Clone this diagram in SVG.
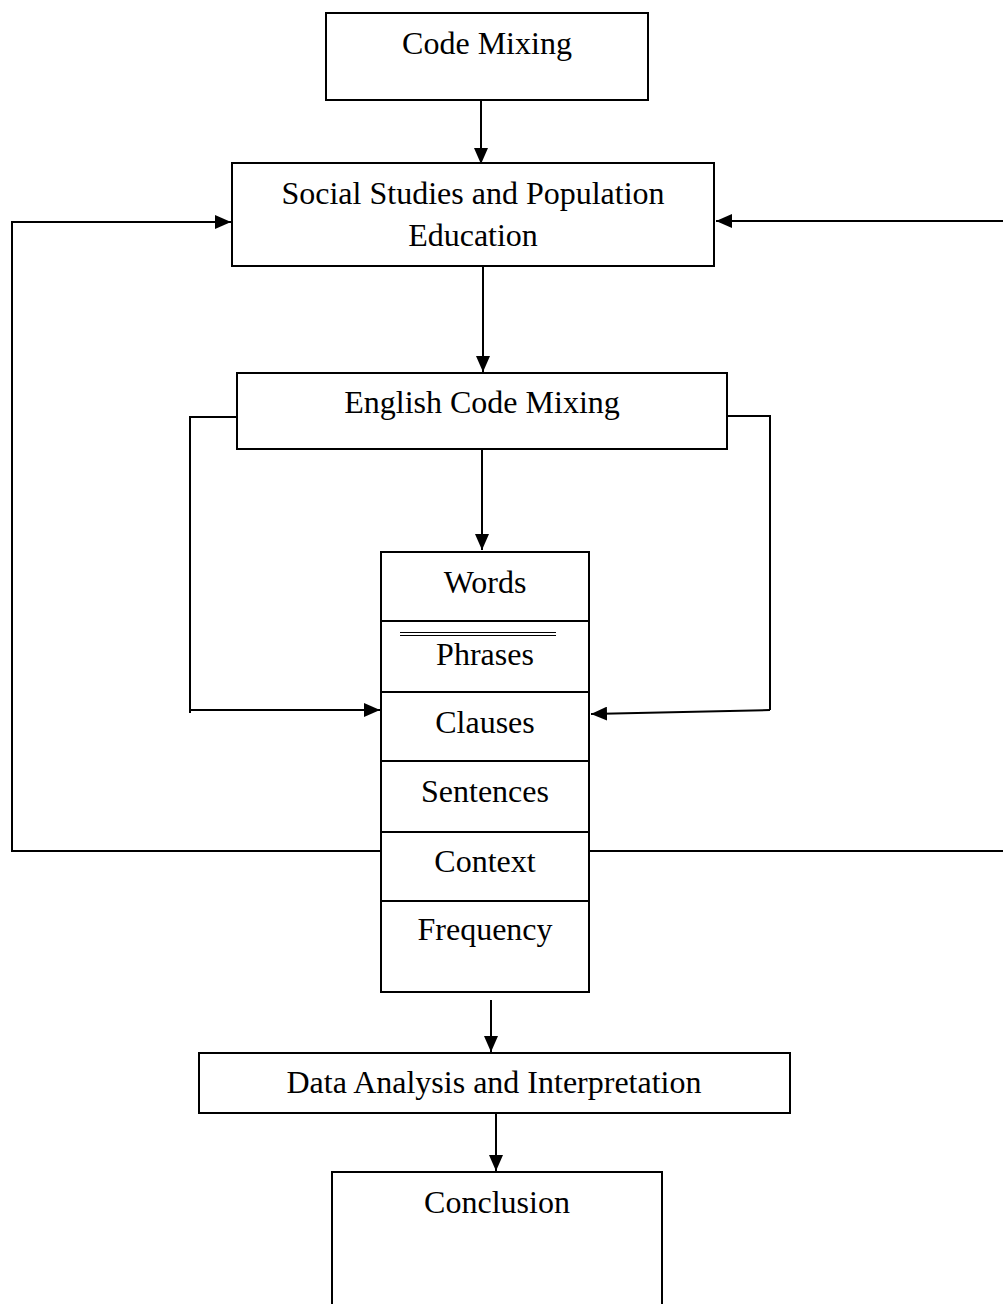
<svg xmlns="http://www.w3.org/2000/svg" width="1003" height="1304" viewBox="0 0 1003 1304">
<style>
.box{fill:#fff;stroke:#000;stroke-width:2}
.ln{fill:none;stroke:#000;stroke-width:2}
.t{font-family:"Liberation Serif","Times New Roman",serif;font-size:32px;fill:#000;text-anchor:middle}
</style>
<defs>
<marker id="ah" markerUnits="userSpaceOnUse" markerWidth="16" markerHeight="14" refX="16" refY="7" orient="auto">
<path d="M0,0 L16,7 L0,14 z" fill="#000"/>
</marker>
</defs>
<rect width="1003" height="1304" fill="#fff"/>
<g id="connectors">
<line class="ln" x1="481" y1="100" x2="481" y2="164" marker-end="url(#ah)"/>
<line class="ln" x1="483" y1="267" x2="483" y2="372" marker-end="url(#ah)"/>
<line class="ln" x1="482" y1="449" x2="482" y2="550" marker-end="url(#ah)"/>
<line class="ln" x1="491" y1="1000" x2="491" y2="1052" marker-end="url(#ah)"/>
<line class="ln" x1="496" y1="1113" x2="496" y2="1171" marker-end="url(#ah)"/>
<polyline class="ln" points="381,851 12,851 12,222 231,222" marker-end="url(#ah)"/>
<line class="ln" x1="589" y1="851" x2="1003" y2="851"/>
<line class="ln" x1="1003" y1="221" x2="716" y2="221" marker-end="url(#ah)"/>
<polyline class="ln" points="236,417 190,417 190,713"/>
<line class="ln" x1="190" y1="710" x2="380" y2="710" marker-end="url(#ah)"/>
<polyline class="ln" points="727,416 770,416 770,710"/>
<line class="ln" x1="770" y1="710" x2="591" y2="714" marker-end="url(#ah)"/>
</g>
<g id="code-mixing">
<rect class="box" x="326" y="13" width="322" height="87"/>
<text class="t" x="487" y="54">Code Mixing</text>
</g>
<g id="social-studies">
<rect class="box" x="232" y="163" width="482" height="103"/>
<text class="t" x="473" y="204">Social Studies and Population</text>
<text class="t" x="473" y="246">Education</text>
</g>
<g id="english-code-mixing">
<rect class="box" x="237" y="373" width="490" height="76"/>
<text class="t" x="482" y="413">English Code Mixing</text>
</g>
<g id="levels">
<rect class="box" x="381" y="552" width="208" height="440"/>
<line class="ln" x1="381" y1="621" x2="589" y2="621"/>
<line class="ln" x1="381" y1="692" x2="589" y2="692"/>
<line class="ln" x1="381" y1="761" x2="589" y2="761"/>
<line class="ln" x1="381" y1="832" x2="589" y2="832"/>
<line class="ln" x1="381" y1="901" x2="589" y2="901"/>
<line x1="400" y1="632.5" x2="556" y2="632.5" stroke="#000" stroke-width="1.2"/>
<line x1="400" y1="635.5" x2="556" y2="635.5" stroke="#000" stroke-width="1.2"/>
<text class="t" x="485" y="593">Words</text>
<text class="t" x="485" y="665">Phrases</text>
<text class="t" x="485" y="733">Clauses</text>
<text class="t" x="485" y="802">Sentences</text>
<text class="t" x="485" y="872">Context</text>
<text class="t" x="485" y="940">Frequency</text>
</g>
<g id="data-analysis">
<rect class="box" x="199" y="1053" width="591" height="60"/>
<text class="t" x="494" y="1093">Data Analysis and Interpretation</text>
</g>
<g id="conclusion">
<rect class="box" x="332" y="1172" width="330" height="140"/>
<text class="t" x="497" y="1213">Conclusion</text>
</g>
</svg>
